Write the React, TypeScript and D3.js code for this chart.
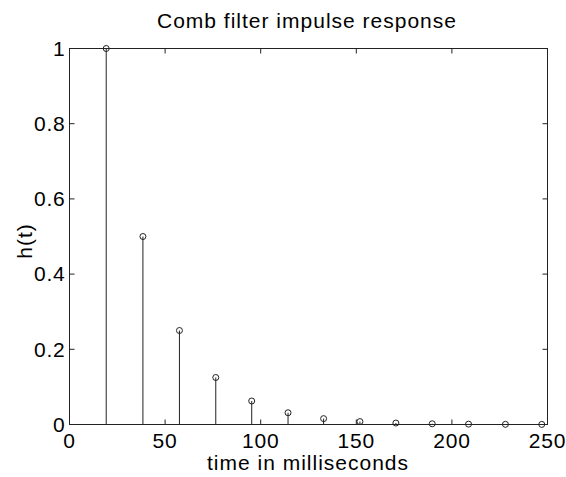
import React from "react";
import * as d3 from "d3";

const times = [19.2, 38.4, 57.5, 76.5, 95.3, 114.3, 132.9, 151.9, 170.7, 189.7, 208.7, 228, 247];
const values = [1, 0.5, 0.25, 0.125, 0.0625, 0.03125, 0.015625, 0.0078125, 0.0039, 0.00195, 0.00098, 0.00049, 0.00024];
const xTicks = [0, 50, 100, 150, 200, 250];
const yTicks = [0, 0.2, 0.4, 0.6, 0.8, 1];
const yTickLabels = ["0", "0.2", "0.4", "0.6", "0.8", "1"];

const W = 566;
const H = 477;
const L = 69.5;
const R = 547.5;
const T = 48.5;
const B = 424.5;
const FONT = "'Liberation Sans', Arial, Helvetica, sans-serif";
const COLOR = "#222";

export default function App() {
  const x = d3.scaleLinear().domain([0, 250]).range([L, R]);
  const y = d3.scaleLinear().domain([0, 1]).range([B, T]);
  const tl = 5;
  const textStyle = { fontFamily: FONT, fontSize: 21, letterSpacing: "0.8px", fill: "#000" } as const;
  return (
    <svg
      width={W}
      height={H}
      viewBox={`0 0 ${W} ${H}`}
      style={{ position: "absolute", left: 0, top: 0, background: "#fff" }}
    >
      <rect x={0} y={0} width={W} height={H} fill="#fff" />
      {/* stems */}
      {times.map((t, i) => (
        <g key={i}>
          <line x1={x(t)} x2={x(t)} y1={y(0)} y2={y(values[i])} stroke={COLOR} strokeWidth={1} />
        </g>
      ))}
      {/* box */}
      <rect x={L} y={T} width={R - L} height={B - T} fill="none" stroke={COLOR} strokeWidth={1} />
      {/* ticks */}
      {xTicks.map((t) => (
        <g key={"x" + t}>
          <line x1={x(t)} x2={x(t)} y1={B} y2={B - tl} stroke={COLOR} />
          <line x1={x(t)} x2={x(t)} y1={T} y2={T + tl} stroke={COLOR} />
          <text x={x(t)} y={448} textAnchor="middle" style={textStyle}>
            {t}
          </text>
        </g>
      ))}
      {yTicks.map((t, i) => (
        <g key={"y" + t}>
          <line x1={L} x2={L + tl} y1={y(t)} y2={y(t)} stroke={COLOR} />
          <line x1={R} x2={R - tl} y1={y(t)} y2={y(t)} stroke={COLOR} />
          <text x={L - 4} y={y(t)} dy="0.35em" textAnchor="end" style={textStyle}>
            {yTickLabels[i]}
          </text>
        </g>
      ))}
      {/* markers */}
      {times.map((t, i) => (
        <circle key={"m" + i} cx={x(t)} cy={y(values[i])} r={3} fill="none" stroke={COLOR} strokeWidth={1} />
      ))}
      {/* labels */}
      <text x={307} y={28} textAnchor="middle" style={{ ...textStyle, letterSpacing: "1px" }}>
        Comb filter impulse response
      </text>
      <text x={308} y={470} textAnchor="middle" style={{ ...textStyle, letterSpacing: "1px" }}>
        time in milliseconds
      </text>
      <text
        transform={`translate(32,241) rotate(-90)`}
        textAnchor="middle"
        style={{ ...textStyle, letterSpacing: "1px" }}
      >
        h(t)
      </text>
    </svg>
  );
}
